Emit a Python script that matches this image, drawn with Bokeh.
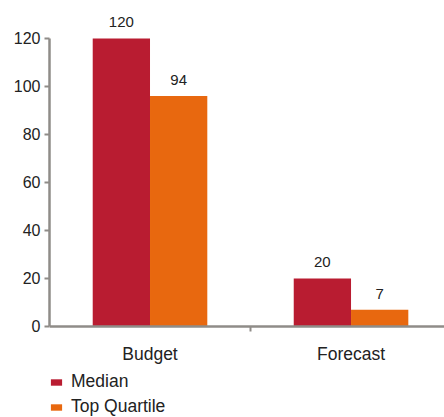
from bokeh.plotting import figure
from bokeh.models import (ColumnDataSource, Range1d, FixedTicker, LabelSet,
                          Legend, LegendItem)
from bokeh.core.properties import value
from bokeh.embed import file_html
from bokeh.resources import INLINE

categories = ["Budget", "Forecast"]
median = [120, 20]
top_quartile = [96, 7]
median_labels = ["120", "20"]
top_quartile_labels = ["94", "7"]

C_MED = "#b91c31"
C_TOP = "#e8680f"
AXIS = "#8f8c88"
FONT = "Liberation Sans"

centers = [i + 0.5 for i in range(len(categories))]
bw = 0.285
src_med = ColumnDataSource(dict(x=[c - bw / 2 for c in centers], top=median, lab=median_labels))
src_top = ColumnDataSource(dict(x=[c + bw / 2 for c in centers], top=top_quartile, lab=top_quartile_labels))

# frame spans the whole height: value 0 at y=326px, 120 at y=38px
p = figure(width=444, height=417, output_backend="svg", toolbar_location=None,
           x_range=Range1d(0, 1.965), y_range=Range1d(-37.92, 135.83),
           min_border_left=49, min_border_right=0, min_border_top=0,
           min_border_bottom=0)
p.outline_line_color = None
p.xgrid.visible = False
p.ygrid.visible = False
p.background_fill_color = "white"

r1 = p.vbar(x="x", top="top", bottom=0, width=bw, source=src_med, color=C_MED, line_color=None)
r2 = p.vbar(x="x", top="top", bottom=0, width=bw, source=src_top, color=C_TOP, line_color=None)

for s in (src_med, src_top):
    p.add_layout(LabelSet(x="x", y="top", text="lab", source=s, y_offset=11,
                          text_align="center", text_baseline="alphabetic",
                          text_font=value(FONT), text_font_size=value("15px"),
                          text_color="#222222"))

# y axis
ya = p.yaxis[0]
ya.bounds = (0, 120)
ya.ticker = FixedTicker(ticks=[0, 20, 40, 60, 80, 100, 120])
ya.axis_line_color = AXIS
ya.axis_line_width = 2.5
ya.major_tick_line_color = AXIS
ya.major_tick_line_width = 2
ya.major_tick_out = 5
ya.major_tick_in = 0
ya.minor_tick_line_color = None
ya.major_label_standoff = 4
ya.major_label_text_font = FONT
ya.major_label_text_font_size = "16px"
ya.major_label_text_color = "#222222"

# x axis, fixed at y=0
xa = p.xaxis[0]
xa.fixed_location = 0
xa.ticker = FixedTicker(ticks=centers, minor_ticks=[1.0])
xa.major_label_overrides = {c: n for c, n in zip(centers, categories)}
xa.axis_line_color = AXIS
xa.axis_line_width = 2.5
xa.major_tick_line_color = None
xa.major_tick_out = 0
xa.major_tick_in = 0
xa.minor_tick_line_color = AXIS
xa.minor_tick_line_width = 2
xa.minor_tick_out = 5
xa.minor_tick_in = 0
xa.major_label_standoff = 13
xa.major_label_text_font = FONT
xa.major_label_text_font_size = "17.5px"
xa.major_label_text_color = "#222222"

legend = Legend(items=[LegendItem(label="Median", renderers=[r1]),
                       LegendItem(label="Top Quartile", renderers=[r2])],
                location=(0, 0), orientation="vertical",
                padding=0, margin=0, spacing=4,
                glyph_width=14, glyph_height=8, label_height=20,
                label_standoff=8, border_line_color=None,
                background_fill_alpha=0,
                label_text_font=FONT, label_text_font_size="17.5px",
                label_text_color="#222222")
p.add_layout(legend, "center")

open("out.html", "w").write(file_html(p, INLINE))
